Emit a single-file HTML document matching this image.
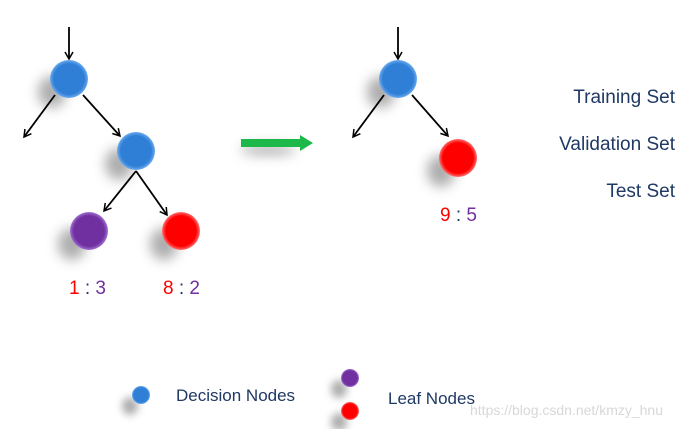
<!DOCTYPE html>
<html><head><style>body{margin:0;background:#fff}svg{display:block}</style></head><body>
<svg width="688" height="429" viewBox="0 0 688 429" xmlns="http://www.w3.org/2000/svg" font-family="Liberation Sans, sans-serif">
<defs>
<filter id="blur" x="-1" y="-1" width="3" height="3"><feGaussianBlur stdDeviation="6"/></filter>
<filter id="blur2" x="-1" y="-1" width="3" height="3"><feGaussianBlur stdDeviation="4"/></filter>
<radialGradient id="b" cx="0.5" cy="0.5" r="0.5"><stop offset="0.8" stop-color="#2f7fd6"/><stop offset="1" stop-color="#6aaaf0"/></radialGradient>
<radialGradient id="p" cx="0.5" cy="0.5" r="0.5"><stop offset="0.8" stop-color="#7030a0"/><stop offset="1" stop-color="#a070d0"/></radialGradient>
<radialGradient id="r" cx="0.5" cy="0.5" r="0.5"><stop offset="0.8" stop-color="#ff0000"/><stop offset="1" stop-color="#ff7070"/></radialGradient>
<marker id="a" markerWidth="10" markerHeight="10" refX="8" refY="5" orient="auto" markerUnits="userSpaceOnUse"><path d="M1,1 L8,5 L1,9" fill="none" stroke="#000" stroke-width="1.5"/></marker>
</defs>
<g fill="#999" filter="url(#blur)" opacity="0.8">
<ellipse cx="52" cy="92" rx="14" ry="16"/><ellipse cx="119" cy="164" rx="14" ry="16"/>
<ellipse cx="72" cy="244" rx="14" ry="16"/><ellipse cx="164" cy="244" rx="14" ry="16"/>
<ellipse cx="381" cy="92" rx="14" ry="16"/><ellipse cx="441" cy="171" rx="14" ry="16"/>
<ellipse cx="268" cy="150" rx="28" ry="5"/>
</g>
<g fill="#999" filter="url(#blur2)" opacity="0.8">
<ellipse cx="130" cy="406" rx="8" ry="9"/><ellipse cx="339" cy="389" rx="8" ry="9"/><ellipse cx="339" cy="422" rx="8" ry="9"/>
</g>
<g stroke="#000" stroke-width="1.8" marker-end="url(#a)">
<line x1="69" y1="27" x2="69" y2="59"/>
<line x1="55" y1="95" x2="24" y2="137"/>
<line x1="83" y1="95" x2="120" y2="136"/>
<line x1="136" y1="171" x2="104" y2="211"/>
<line x1="136" y1="171" x2="167" y2="215"/>
<line x1="398" y1="27" x2="398" y2="59"/>
<line x1="384" y1="95" x2="353" y2="137"/>
<line x1="412" y1="95" x2="448" y2="136"/>
</g>
<polygon points="241,139 300,139 300,135 313,143 300,151 300,147 241,147" fill="#1db84a"/>
<circle cx="69" cy="79" r="19" fill="url(#b)"/>
<circle cx="136" cy="151" r="19" fill="url(#b)"/>
<circle cx="89" cy="231" r="19" fill="url(#p)"/>
<circle cx="181" cy="231" r="19" fill="url(#r)"/>
<circle cx="398" cy="79" r="19" fill="url(#b)"/>
<circle cx="458" cy="158" r="19" fill="url(#r)"/>
<g font-size="19">
<text x="69" y="294"><tspan fill="#ff0000">1</tspan><tspan fill="#1f3864"> : </tspan><tspan fill="#7030a0">3</tspan></text>
<text x="163" y="294"><tspan fill="#ff0000">8</tspan><tspan fill="#1f3864"> : </tspan><tspan fill="#7030a0">2</tspan></text>
<text x="440" y="221"><tspan fill="#ff0000">9</tspan><tspan fill="#1f3864"> : </tspan><tspan fill="#7030a0">5</tspan></text>
</g>
<g font-size="19" fill="#1f3864" text-anchor="end">
<text x="675" y="103">Training Set</text>
<text x="675" y="150">Validation Set</text>
<text x="675" y="197">Test Set</text>
</g>
<circle cx="141" cy="395" r="9" fill="url(#b)"/>
<circle cx="350" cy="378" r="9" fill="url(#p)"/>
<circle cx="350" cy="411" r="9" fill="url(#r)"/>
<text x="176" y="401" font-size="17" fill="#1f3864">Decision Nodes</text>
<text x="388" y="404" font-size="17" fill="#1f3864">Leaf Nodes</text>
<text x="470" y="415" font-size="14" fill="#d8d8d8">https://blog.csdn.net/kmzy_hnu</text>
</svg>
</body></html>
